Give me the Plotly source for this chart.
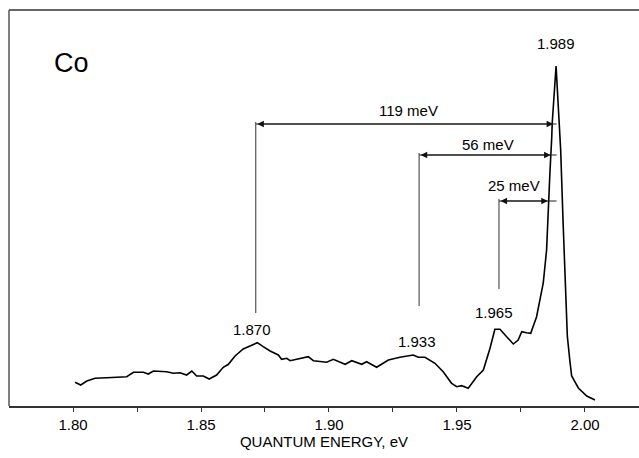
import plotly.graph_objects as go

# Spectrum (energy in eV, intensity in arbitrary units)
energy = [1.8008, 1.8030, 1.8054, 1.8086, 1.8132, 1.8210, 1.8236, 1.8275, 1.8294, 1.8314,
          1.8366, 1.8392, 1.8418, 1.8444, 1.8464, 1.8483, 1.8509, 1.8532, 1.8561, 1.8587,
          1.8607, 1.8633, 1.8665, 1.8698, 1.8720, 1.8743, 1.8770, 1.8802, 1.8815, 1.8835,
          1.8848, 1.8874, 1.8919, 1.8939, 1.8991, 1.9017, 1.9043, 1.9063, 1.9089, 1.9128,
          1.9147, 1.9186, 1.9232, 1.9277, 1.9329, 1.9349, 1.9375, 1.9414, 1.9446, 1.9479,
          1.9499, 1.9518, 1.9544, 1.9577, 1.9603, 1.9629, 1.9648, 1.9668, 1.9694, 1.9720,
          1.9739, 1.9753, 1.9772, 1.9788, 1.9811, 1.9824, 1.9837, 1.9850, 1.9857, 1.9863,
          1.9870, 1.9872, 1.9887, 1.9902, 1.9905, 1.9915, 1.9922, 1.9926, 1.9931, 1.9941,
          1.9948, 1.9974, 2.0007, 2.0039]
intensity = [23.7, 21.0, 25.0, 27.7, 28.3, 29.3, 33.7, 33.7, 32.0, 35.0,
             34.3, 32.7, 33.3, 31.0, 35.0, 30.0, 30.0, 27.0, 31.0, 38.7,
             41.7, 50.0, 57.0, 61.0, 63.3, 59.3, 55.0, 51.0, 46.7, 47.7,
             45.3, 46.7, 49.3, 45.3, 43.7, 46.7, 44.3, 41.7, 45.3, 41.7,
             44.3, 38.7, 46.0, 48.7, 51.0, 48.7, 48.7, 42.7, 34.3, 22.7,
             19.3, 20.3, 17.7, 29.3, 36.0, 57.7, 76.7, 76.7, 69.3, 62.0,
             66.0, 74.3, 73.3, 72.7, 89.3, 106.0, 123.0, 156.0, 205.0, 233.0,
             268.0, 283.0, 340.0, 273.0, 256.0, 180.0, 138.0, 106.0, 70.0, 45.0,
             30.0, 18.0, 10.0, 6.0]

# Peak labels
peak_labels = ["1.870", "1.933", "1.965", "1.989"]
peak_label_x = [1.8699, 1.9344, 1.9645, 1.9887]
peak_label_y = [77, 65, 94, 363]

# Separation markers
sep_labels = ["119 meV", "56 meV", "25 meV"]
sep_left = [1.8714, 1.9352, 1.9664]
sep_bottom = [93, 100, 117]
sep_level = [282, 251, 205]
sep_tip = [1.9876, 1.9866, 1.9855]
sep_end = 1.9889
sep_label_x = [1.9309, 1.9621, 1.9723]
sep_label_y = [296, 262, 221]

tick_vals = [1.80, 1.825, 1.85, 1.875, 1.90, 1.925, 1.95, 1.975, 2.00]
tick_text = ["1.80", "", "1.85", "", "1.90", "", "1.95", "", "2.00"]

FONT = "Liberation Sans, Arial, Helvetica, sans-serif"

fig = go.Figure()
fig.add_trace(go.Scatter(x=energy, y=intensity, mode="lines",
                         line=dict(color="black", width=1.6), hoverinfo="skip",
                         showlegend=False))

shapes = []
annotations = []
for i in range(len(sep_labels)):
    shapes.append(dict(type="line", xref="x", yref="y",
                       x0=sep_left[i], x1=sep_left[i], y0=sep_bottom[i], y1=sep_level[i] + 2,
                       line=dict(color="#333333", width=1)))
    shapes.append(dict(type="line", xref="x", yref="y",
                       x0=sep_left[i], x1=sep_end, y0=sep_level[i], y1=sep_level[i],
                       line=dict(color="#222222", width=1.2)))
    annotations.append(dict(x=sep_tip[i], y=sep_level[i], ax=sep_left[i], ay=sep_level[i],
                            xref="x", yref="y", axref="x", ayref="y", text="",
                            showarrow=True, arrowhead=2, arrowsize=1.1, arrowwidth=1.2,
                            arrowside="end+start", arrowcolor="#111111",
                            startarrowhead=2, startarrowsize=1.1))
    annotations.append(dict(x=sep_label_x[i], y=sep_label_y[i], xref="x", yref="y",
                            text=sep_labels[i], showarrow=False,
                            font=dict(family=FONT, size=15, color="black")))

for t, x, y in zip(peak_labels, peak_label_x, peak_label_y):
    annotations.append(dict(x=x, y=y, xref="x", yref="y", text=t, showarrow=False,
                            font=dict(family=FONT, size=15, color="black")))

annotations.append(dict(x=1.7996, y=343, xref="x", yref="y", text="Co", showarrow=False,
                        font=dict(family=FONT, size=27, color="black")))

# frame lines: top and left (no right border in the original)
shapes.append(dict(type="line", xref="paper", yref="paper", x0=0, x1=1, y0=1, y1=1,
                   line=dict(color="#333333", width=1.5)))
shapes.append(dict(type="line", xref="paper", yref="paper", x0=0, x1=0, y0=0, y1=1,
                   line=dict(color="#555555", width=1.5)))

fig.update_layout(
    template="none",
    width=639, height=458,
    margin=dict(l=9, r=0, t=10, b=52, pad=0),
    paper_bgcolor="white", plot_bgcolor="white",
    shapes=shapes, annotations=annotations,
    font=dict(family=FONT, size=15, color="black"),
    xaxis=dict(range=[1.775, 2.0211], showgrid=False, zeroline=False,
               showline=True, linecolor="#333333", linewidth=1.5, mirror=False,
               ticks="outside", ticklen=4, tickwidth=1, tickcolor="#333333",
               tickmode="array", tickvals=tick_vals, ticktext=tick_text,
               tickfont=dict(family=FONT, size=15, color="black"),
               title=dict(text="QUANTUM ENERGY, eV", standoff=3,
                          font=dict(family=FONT, size=15, color="black"))),
    yaxis=dict(range=[0, 396], showgrid=False, zeroline=False, showticklabels=False,
               ticks="", showline=False, visible=True),
)

fig.write_html("out.html")
